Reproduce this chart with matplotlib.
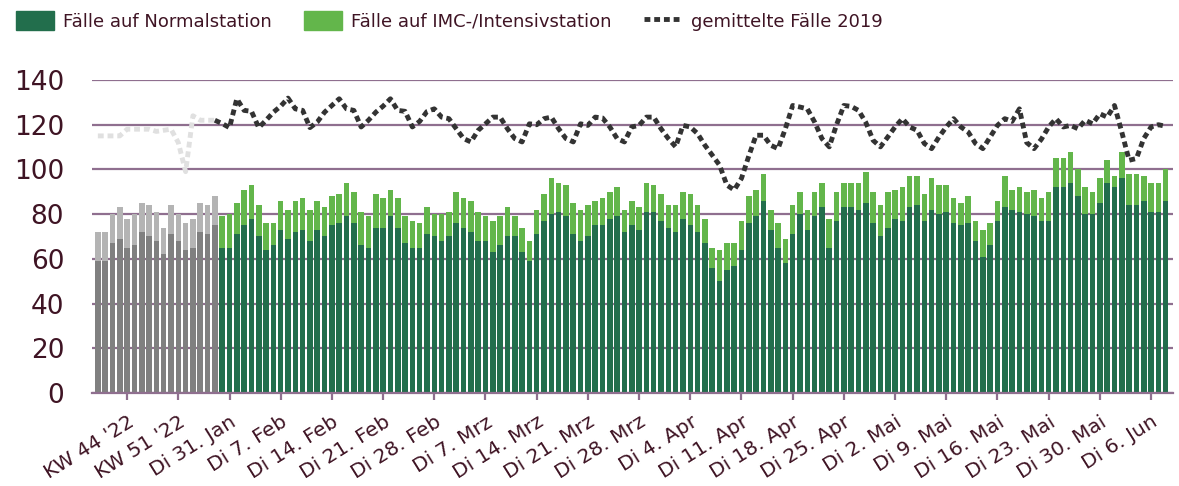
import numpy as np
import matplotlib.pyplot as plt
from matplotlib.patches import Patch
from matplotlib.lines import Line2D

# Wochenwerte KW 40 '22 bis KW 4 '23 (grau)
grau_normal = [59, 59, 67, 69, 65, 66, 72, 70, 68, 62, 71, 68, 64, 65, 72, 71, 75]
grau_gesamt = [72, 72, 80, 83, 78, 80, 85, 84, 81, 74, 84, 80, 76, 78, 85, 84, 88]

# Tageswerte 30. Jan bis 8. Jun
normal = [65, 65, 71, 75, 78, 70, 64, 66, 73, 69, 72, 73, 68, 73, 70, 75, 76, 79, 76, 66,
          65, 74, 74, 79, 74, 67, 65, 65, 71, 70, 68, 70, 76, 74, 72, 68, 68, 63, 66, 70,
          70, 63, 59, 71, 77, 80, 81, 79, 71, 68, 70, 75, 75, 78, 79, 72, 75, 73, 81, 81,
          77, 74, 72, 78, 75, 72, 67, 56, 50, 55, 57, 64, 76, 79, 86, 73, 65, 58, 71, 80,
          73, 79, 83, 65, 77, 83, 83, 82, 85, 76, 70, 74, 78, 77, 83, 84, 77, 82, 80, 81,
          76, 75, 76, 68, 61, 66, 77, 83, 82, 81, 80, 79, 77, 77, 92, 92, 94, 88, 80, 80,
          85, 94, 92, 96, 84, 84, 86, 81, 81, 86]
gesamt = [79, 80, 85, 91, 93, 84, 76, 76, 86, 82, 86, 87, 82, 86, 83, 88, 89, 94, 90, 81,
          79, 89, 87, 91, 87, 79, 77, 76, 83, 80, 80, 81, 90, 87, 86, 81, 79, 77, 79, 83,
          79, 74, 68, 82, 89, 96, 94, 93, 85, 82, 84, 86, 87, 90, 92, 82, 86, 83, 94, 93,
          89, 84, 84, 90, 89, 84, 78, 65, 64, 67, 67, 77, 88, 91, 98, 82, 76, 69, 84, 90,
          82, 90, 94, 78, 90, 94, 94, 94, 99, 90, 84, 90, 91, 92, 97, 97, 89, 96, 93, 93,
          87, 85, 88, 77, 73, 76, 86, 97, 91, 92, 90, 91, 87, 90, 105, 105, 108, 100, 92, 90,
          96, 104, 97, 108, 98, 98, 97, 94, 94, 100]

# gemittelte Faelle 2019
vgl_grau = [115, 115, 115, 115, 118, 118, 118, 118, 117, 117.5, 118, 112, 99, 124, 122, 122, 122]
vgl = [122, 120.5, 118.7, 131.6, 126.4, 126, 118.7, 122, 125.6, 128.3, 131.9, 127.1, 126.4, 118.7,
       121.2, 125.6, 128.6, 131.6, 127.1, 126.4, 119, 122, 125.6, 128.3, 131.6, 126.4, 126, 119,
       121.5, 125.9, 127.1, 123.4, 122.7, 118.2, 113.8, 112.3, 117.5, 120.4, 123.4, 123.4, 118.2,
       113.8, 112.3, 120.4, 120, 122.7, 123.4, 118.2, 113.8, 112.3, 120.4, 119.7, 123.4, 123,
       119, 113.8, 112.3, 119, 119.7, 123.4, 123.4, 118.2, 113.8, 110.1, 119.7, 119, 116, 110.8,
       106.4, 101.9, 93, 90.8, 96, 106, 115.3, 115.3, 110.8, 109.3, 118.2, 128.6, 127.9, 127.1,
       121.2, 113.8, 110.1, 120, 128.6, 128.2, 126.4, 121, 113, 110.1, 114.5, 119, 122.7, 119,
       117.5, 111.6, 109.3, 114.5, 119, 122.7, 119, 116.7, 111.6, 109.3, 114.5, 119.7, 122.7,
       121.5, 127.1, 112, 109.3, 113.5, 119, 122.7, 119, 119.7, 118.2, 122, 120.4, 124.9, 123.4,
       128.6, 116.7, 104.1, 104.9, 113.8, 119, 120, 119.3]

labels = ["KW 44 '22", "KW 51 '22", "Di 31. Jan", "Di 7. Feb", "Di 14. Feb", "Di 21. Feb",
          "Di 28. Feb", "Di 7. Mrz", "Di 14. Mrz", "Di 21. Mrz", "Di 28. Mrz", "Di 4. Apr",
          "Di 11. Apr", "Di 18. Apr", "Di 25. Apr", "Di 2. Mai", "Di 9. Mai", "Di 16. Mai",
          "Di 23. Mai", "Di 30. Mai", "Di 6. Jun"]

dunkelgruen = '#226e4c'
hellgruen = '#63b64b'
lila = '#8f6f8f'
textfarbe = '#3f1424'

x_grau = np.arange(len(grau_normal))
x_tag = np.arange(len(normal)) + len(grau_normal)
x_vgl_grau = np.arange(len(vgl_grau))
x_vgl = np.arange(len(vgl)) + len(vgl_grau) - 1

grau_imc = np.array(grau_gesamt) - np.array(grau_normal)
imc = np.array(gesamt) - np.array(normal)

fig = plt.figure(figsize=(11.79, 4.86), dpi=100)
ax = fig.add_axes([92 / 1179, 93 / 486, 1081 / 1179, 313 / 486])

b = 0.76
ax.bar(x_grau, grau_normal, width=b, color='#808080')
ax.bar(x_grau, grau_imc, bottom=grau_normal, width=b, color='#b4b4b4')
ax.bar(x_tag, normal, width=b, color=dunkelgruen)
ax.bar(x_tag, imc, bottom=normal, width=b, color=hellgruen)

stil = (0, (1.2, 0.8))
ax.plot(x_vgl_grau, vgl_grau, color='#e0e0e0', lw=3.5, ls=stil, dash_capstyle='butt')
ax.plot(x_vgl, vgl, color='#333333', lw=3.5, ls=stil, dash_capstyle='butt')

ax.set_ylim(0, 140)
ax.set_xlim(-0.8, 147)
ax.set_yticks(range(0, 141, 20))
ax.yaxis.grid(True, color=lila, lw=1.6)
ax.set_axisbelow(True)
for s in ['left', 'right', 'top']:
    ax.spines[s].set_visible(False)
ax.spines['bottom'].set_color(lila)
ax.spines['bottom'].set_linewidth(1.6)

ax.tick_params(axis='y', length=0, pad=20, labelsize=19, labelcolor=textfarbe)
ax.set_xticks(np.arange(4, 147, 7))
ax.set_xticklabels(labels, rotation=32, ha='right', rotation_mode='anchor')
ax.tick_params(axis='x', length=5, width=1.6, color=lila, pad=9, labelsize=14.5,
               labelcolor=textfarbe)

griffe = [Patch(color=dunkelgruen), Patch(color=hellgruen),
          Line2D([0], [0], color='#333333', lw=3.5, ls=stil, dash_capstyle='butt')]
namen = ['Fälle auf Normalstation', 'Fälle auf IMC-/Intensivstation', 'gemittelte Fälle 2019']
fig.legend(griffe, namen, loc='upper left', bbox_to_anchor=(0.0, 1.01), ncol=3,
           frameon=False, fontsize=13, handlelength=2.1, handleheight=1.2,
           columnspacing=1.8, handletextpad=0.5, labelcolor=textfarbe)

fig.savefig('out.png', dpi=100)
